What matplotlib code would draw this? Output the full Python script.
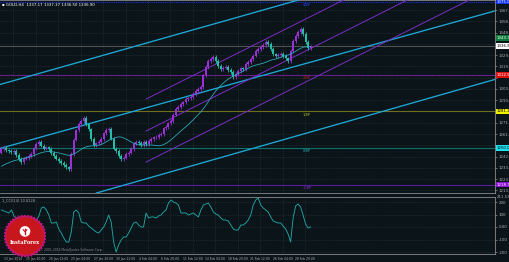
import numpy as np
import pandas as pd
import matplotlib
matplotlib.use("Agg")
import matplotlib.pyplot as plt
from matplotlib.patches import Circle
from matplotlib.transforms import blended_transform_factory

# GOLD H4 closes, one per drawn bar
prior_closes = [1226.5, 1224.8, 1228.0, 1230.2, 1229.0, 1231.5, 1233.8, 1232.0, 1228.6, 1227.4,
                1230.9, 1232.5, 1235.0, 1234.1, 1236.8, 1238.2, 1236.0, 1240.5, 1243.1, 1246.0]
closes = [
    1249.1, 1250.3, 1248.0, 1247.4, 1246.2, 1247.5, 1244.0, 1240.8, 1238.0, 1240.9,
    1241.5, 1243.0, 1244.9, 1249.8, 1253.4, 1255.1, 1252.0, 1249.5, 1250.6, 1249.1,
    1245.8, 1243.2, 1241.0, 1238.9, 1237.2, 1235.5, 1233.4, 1232.1, 1245.0, 1257.2,
    1265.0, 1270.4, 1273.1, 1275.6, 1270.2, 1266.0, 1257.7, 1252.6, 1254.0, 1255.1,
    1257.7, 1262.5, 1265.4, 1266.2, 1258.0, 1249.5, 1247.4, 1243.0, 1240.6, 1241.8,
    1244.9, 1246.0, 1249.1, 1253.8, 1255.1, 1254.3, 1252.5, 1255.0, 1253.4, 1256.0,
    1257.7, 1259.0, 1259.4, 1261.5, 1262.0, 1266.8, 1267.9, 1271.0, 1273.1, 1278.5,
    1283.3, 1285.0, 1287.6, 1289.0, 1291.8, 1292.4, 1293.6, 1296.0, 1298.7, 1300.5,
    1302.1, 1312.0, 1319.2, 1324.3, 1326.0, 1327.7, 1324.3, 1320.1, 1317.5, 1318.6,
    1319.2, 1316.8, 1314.9, 1310.6, 1313.0, 1315.8, 1318.0, 1317.2, 1321.7, 1323.5,
    1326.0, 1329.0, 1332.8, 1334.5, 1336.3, 1338.0, 1340.5, 1338.8, 1334.5, 1330.0,
    1328.6, 1329.4, 1330.3, 1328.6, 1326.5, 1324.3, 1333.0, 1341.5, 1345.6, 1349.1,
    1351.6, 1347.4, 1340.5, 1335.2, 1336.9,
]
cci = [
    136, 128, 120, 112, 136, 88, 72, 64, 56, 48,
    40, 32, 24, 16, 56, 88, 152, 160, 136, 96,
    32, 32, 40, -16, -48, -88, -120, -120, -40, 120,
    136, 112, 40, 32, 32, 8, -8, -24, -40, -48,
    -24, 0, 40, 96, 40, -120, -200, -144, -104, -80,
    -80, -48, -8, 32, 40, 16, 0, 0, 112, 72,
    80, 80, 72, 88, 96, 120, 136, 192, 216, 200,
    192, 176, 112, 112, 112, 96, 104, 112, 96, 80,
    136, 176, 184, 192, 160, 120, 104, 96, 72, 56,
    56, 48, 16, -16, -24, -24, 16, 16, 32, 56,
    96, 176, 216, 232, 176, 152, 136, 120, 80, 48,
    40, 32, 32, 8, -16, -56, -120, 72, 168, 184,
    160, 96, 24, -8, 0,
]

# Murrey math levels, top to bottom
murrey_levels = [1375.00, 1343.75, 1312.50, 1281.25, 1250.00, 1218.75]
murrey_tags = ["4/8P", "3/8P", "2/8P", "1/8P", "0/8P", "-1/8P"]
last_price = 1336.90

# channel lines: two (bar, price) anchors each
cyan_lines = [((0, 1304.6), (120, 1376.9)),
              ((0, 1250.0), (198, 1367.1)),
              ((0, 1188.5), (198, 1308.6))]
purple_lines = [((58, 1291.8), (120, 1358.0)),
                ((58, 1264.5), (120, 1330.7)),
                ((58, 1238.0), (120, 1304.2))]

price_ticks = [1367.80, 1358.20, 1348.55, 1338.95, 1329.30, 1319.70, 1310.05, 1300.45,
               1290.80, 1281.20, 1271.55, 1261.95, 1252.30, 1242.70, 1233.05, 1223.45, 1213.80]
time_labels = ["13 Jan 2014", "15 Jan 20:00", "20 Jan 12:00", "23 Jan 04:00", "27 Jan 20:00",
               "30 Jan 12:00", "4 Feb 04:00", "6 Feb 20:00", "11 Feb 12:00", "14 Feb 04:00",
               "18 Feb 20:00", "21 Feb 12:00", "26 Feb 04:00", "28 Feb 20:00"]
cci_ticks = [200, 100, 0, -100, -200]
cci_tick_labels = ["200", "100", "0.00", "-100", "-200"]

BG = "#0b1519"
UP = "#9b30d9"
DN = "#22bfa6"
CYAN = "#1ea8d8"
VIOLET = "#7b2cc4"
GRID = "#343e3e"
TXT = "#b0b0b0"

W, H = 510, 262
fig = plt.figure(figsize=(W / 100, H / 100), dpi=100, facecolor=BG)


def px_axes(left, top, width, height):
    return fig.add_axes([left / W, 1 - (top + height) / H, width / W, height / H])


ax = px_axes(0, 0, 495, 193)
ax2 = px_axes(0, 197, 495, 57)
for a in (ax, ax2):
    a.set_facecolor(BG)
    for s in a.spines.values():
        s.set_color("#8a8a8a")
        s.set_linewidth(0.6)
    a.spines["left"].set_visible(False)
    a.yaxis.tick_right()
    a.tick_params(colors="#8a8a8a", labelcolor=TXT, length=1.5, width=0.5, pad=1, labelsize=2.8)

xmax = 198
ax.set_xlim(-0.6, xmax)
ax2.set_xlim(-0.6, xmax)
ax.set_ylim(1211.6, 1376.4)
ax2.set_ylim(-216, 240)

grid_x = 4.8 + 9 * np.arange(len(time_labels))
for a in (ax, ax2):
    a.set_xticks(grid_x)
    a.grid(True, color=GRID, ls=(0, (1, 2)), lw=0.5)
    a.set_axisbelow(True)
ax.set_xticklabels([])
ax.tick_params(axis="x", length=0)
ax2.set_xticklabels(time_labels)
ax2.tick_params(axis="x", length=0, labelsize=2.2, pad=2.5)

# hide tick labels that sit under the level boxes
boxed = murrey_levels + [last_price]
shown = [p for p in price_ticks if min(abs(p - b) for b in boxed) > 3.5]
ax.set_yticks(price_ticks)
ax.set_yticklabels([f"{p:.2f}" if p in shown else "" for p in price_ticks])
ax2.set_yticks(cci_ticks)
ax2.set_yticklabels(cci_tick_labels)

# candles
c = np.array(closes)
o = np.r_[prior_closes[-1], c[:-1]]
hi = np.maximum(o, c) + 1.5
lo = np.minimum(o, c) - 1.5
idx = np.arange(len(c))
cols = np.where(c >= o, UP, DN)
ax.vlines(idx, lo, hi, colors=cols, lw=0.6, zorder=4)
ax.bar(idx, np.maximum(np.abs(c - o), 0.6), bottom=np.minimum(o, c), width=0.8,
       color=cols, zorder=5)

ma = pd.Series(prior_closes + closes).rolling(20).mean().to_numpy()[len(prior_closes):]
ax.plot(idx, ma, color="#2fb2c4", lw=0.55, zorder=6)

# channel lines
for p1, p2 in cyan_lines:
    ax.axline(p1, p2, color=CYAN, lw=0.95, zorder=3)
for (b1, v1), (b2, v2) in purple_lines:
    k = (v2 - v1) / (b2 - b1)
    ax.plot([b1, xmax], [v1, v1 + k * (xmax - b1)], color=VIOLET, lw=0.7, zorder=3)

# horizontal levels
line_cols = ["#1a2ee0", None, "#5c1d96", "#6f6f1c", "#0f7070", "#5a1a9a"]
tag_cols = ["#2040ff", None, "#c81e1e", "#b4b41e", "#1eb4b4", "#8a2ad0"]
box_cols = ["#1030f0", "#0a7a3a", "#e01010", "#f0f000", "#20e0f0", "#8a10d0"]
box_txt = ["white", "white", "white", "black", "black", "white"]
for lvl, lc, tc, tag in zip(murrey_levels, line_cols, tag_cols, murrey_tags):
    if lc is None:
        continue
    ls = (0, (1, 1)) if lvl == murrey_levels[0] else "-"
    ax.axhline(lvl, color=lc, lw=0.8, ls=ls, zorder=2)
    ax.text(121, lvl - 1.2, tag, color=tc, fontsize=2.6, va="top", ha="left", zorder=7)
ax.axhline(murrey_levels[2], color="#c02020", lw=0.6, ls=(0, (1, 6)), zorder=2)
ax.axhline(last_price, color="#555555", lw=0.7, zorder=2)

tr = blended_transform_factory(ax.transAxes, ax.transData)
for lvl, bc, tcol in zip(murrey_levels, box_cols, box_txt):
    ax.text(1.004, lvl, f"{lvl:.2f}", transform=tr, fontsize=2.8, color=tcol, ha="left",
            va="center", clip_on=False, zorder=10,
            bbox=dict(boxstyle="square,pad=0.2", fc=bc, ec="none"))
ax.text(1.004, last_price, f"{last_price:.2f}", transform=tr, fontsize=2.8, color="black",
        ha="left", va="center", clip_on=False, zorder=10,
        bbox=dict(boxstyle="square,pad=0.2", fc="white", ec="none"))

ax.text(0.004, 0.985, "\u25aa GOLD,H4  1337.17 1337.37 1336.50 1336.90", transform=ax.transAxes,
        color="white", fontsize=2.8, va="top", ha="left", zorder=10)

# CCI panel
ax2.plot(idx, cci, color="#1fa4a4", lw=0.65)
ax2.text(0.004, 0.97, "1_CCI(14) 10.8128", transform=ax2.transAxes, color=TXT,
         fontsize=2.5, va="top", ha="left")
ax2.text(0.08, 0.04, "\u00a9 2001-2014 MetaQuotes Software Corp.", transform=ax2.transAxes,
         color="#8a8a8a", fontsize=2.2, va="bottom", ha="left")
ax2.text(1.004, 1.0, "211.53", transform=ax2.transAxes, color=TXT, fontsize=2.8,
         va="center", ha="left", clip_on=False)

# InstaForex badge
lax = px_axes(4, 215, 42, 42)
lax.set_xlim(-1, 1)
lax.set_ylim(-1, 1)
lax.axis("off")
th = np.linspace(0, 2 * np.pi, 81)
rr = np.where(np.arange(81) % 2 == 0, 1.0, 0.88)
lax.fill(rr * np.cos(th), rr * np.sin(th), color="#c0187a")
lax.add_patch(Circle((0, 0), 0.86, color="#c8161d"))
lax.add_patch(Circle((0, 0.22), 0.22, color="white"))
lax.plot([0, 0], [0.08, 0.34], color="#c8161d", lw=1.0)
lax.plot([-0.09, 0, 0.09], [0.3, 0.2, 0.3], color="#c8161d", lw=0.8)
lax.text(0, -0.3, "InstaForex", color="white", fontsize=3.6, ha="center", va="center",
         fontweight="bold", family="DejaVu Serif")

fig.savefig("out.png", dpi=100, facecolor=BG)
